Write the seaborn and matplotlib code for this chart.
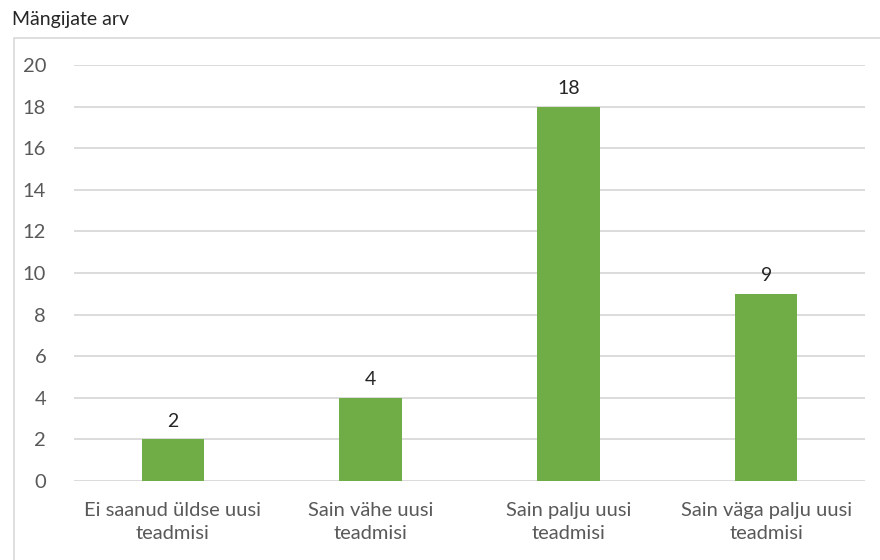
import matplotlib
matplotlib.use("Agg")
import matplotlib.pyplot as plt
import seaborn as sns
import pandas as pd
from matplotlib.patches import Rectangle

categories = ["Ei saanud üldse uusi\nteadmisi", "Sain vähe uusi\nteadmisi",
              "Sain palju uusi\nteadmisi", "Sain väga palju uusi\nteadmisi"]
counts = [2, 4, 18, 9]
y_ticks = [0, 2, 4, 6, 8, 10, 12, 14, 16, 18, 20]
y_title = "Mängijate arv"

sns.set_theme(style="white")
plt.rcParams["font.family"] = ["Lato", "DejaVu Sans"]

df = pd.DataFrame({"kategooria": categories, "arv": counts})

fig = plt.figure(figsize=(8.8, 5.6), dpi=100)
ax = fig.add_axes([74 / 880, 1 - 481 / 560, (865 - 74) / 880, (481 - 65) / 560])

sns.barplot(data=df, x="kategooria", y="arv", color="#70AD47", saturation=1,
            width=0.315, ax=ax, zorder=3, linewidth=0, edgecolor="none")

ax.set_ylim(0, 20)
ax.set_yticks(y_ticks)
ax.set_yticklabels([str(t) for t in y_ticks])
ax.set_xlim(-0.5, len(categories) - 0.5)
ax.yaxis.grid(True, color="#D9D9D9", linewidth=1.3, zorder=0)
ax.xaxis.grid(False)
for s in ax.spines.values():
    s.set_visible(False)
ax.tick_params(axis="both", length=0, colors="#595959", labelsize=14.5)
ax.tick_params(axis="y", pad=20)
ax.tick_params(axis="x", pad=15)
ax.set_xlabel("")
ax.set_ylabel("")
for lbl in ax.get_xticklabels():
    lbl.set_linespacing(1.45)

for c in ax.containers:
    ax.bar_label(c, labels=[str(v) for v in counts], padding=7,
                 fontsize=14, color="#262626")

# chart frame
fig.patches.append(Rectangle((14 / 880, -0.01), 1.0, 1 - 38 / 560 + 0.01,
                             transform=fig.transFigure, fill=False,
                             edgecolor="#D9D9D9", linewidth=1.2))
fig.text(12 / 880, 1 - 19 / 560, y_title, fontsize=14, color="#262626",
         ha="left", va="center")

fig.savefig("out.png", dpi=100, facecolor="white")
